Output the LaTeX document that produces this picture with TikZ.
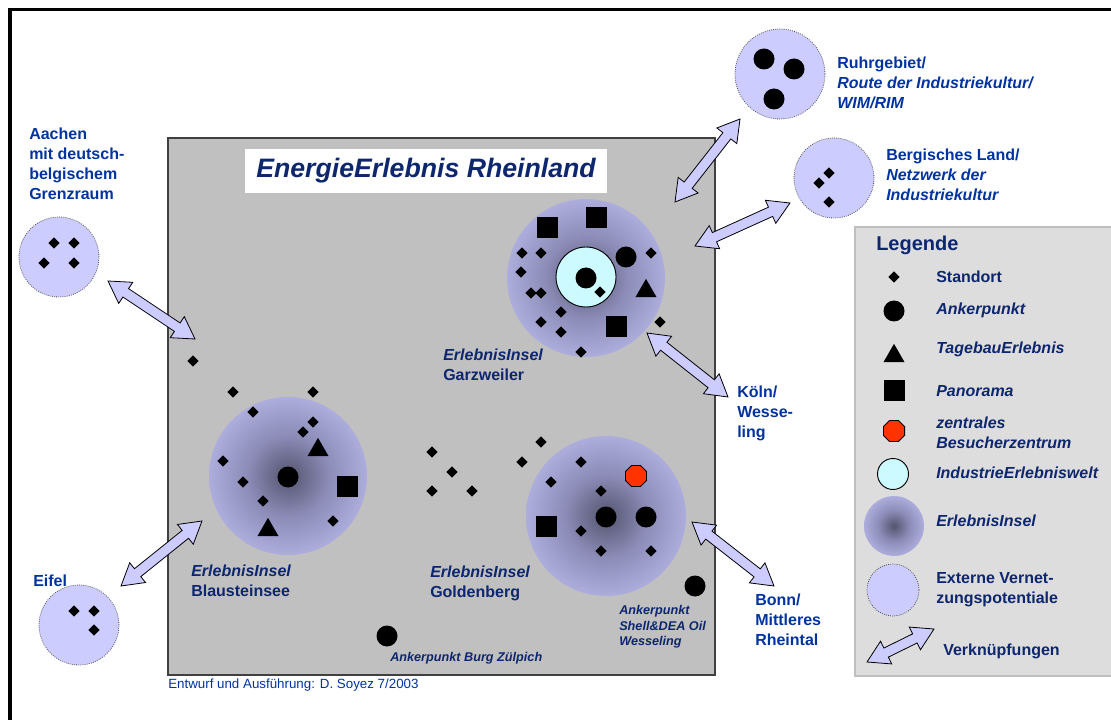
\documentclass[tikz,border=0pt]{standalone}
\usepackage{fontspec}
\setmainfont{Liberation Sans}
\usetikzlibrary{shapes.geometric,calc}
\definecolor{navy}{RGB}{13,38,110}
\definecolor{lblue}{RGB}{0,51,160}
\definecolor{lav}{RGB}{204,204,255}
\definecolor{boxgray}{RGB}{192,192,192}
\definecolor{leggray}{RGB}{221,221,221}
\definecolor{icyan}{RGB}{204,250,255}
\definecolor{octred}{RGB}{255,51,0}
\definecolor{isldark}{RGB}{84,84,110}
\definecolor{islmid}{RGB}{140,140,184}
\pgfdeclareradialshading{island}{\pgfpoint{0bp}{0bp}}{color(0bp)=(isldark); color(13bp)=(islmid); color(36bp)=(lav); color(50bp)=(lav)}
\newcommand\linkarrow[2]{%
  \draw[linkarr] (#1) -- ($(#1)!16pt!(#2)!9.5pt!90:(#2)$) -- ($(#1)!16pt!(#2)!3.8pt!90:(#2)$)
   -- ($(#2)!16pt!(#1)!3.8pt!-90:(#1)$) -- ($(#2)!16pt!(#1)!9.5pt!-90:(#1)$) -- (#2)
   -- ($(#2)!16pt!(#1)!9.5pt!90:(#1)$) -- ($(#2)!16pt!(#1)!3.8pt!90:(#1)$)
   -- ($(#1)!16pt!(#2)!3.8pt!-90:(#2)$) -- ($(#1)!16pt!(#2)!9.5pt!-90:(#2)$) -- cycle;}
\tikzset{
  dia/.style={diamond, fill=black, inner sep=0pt, minimum width=8.6pt, minimum height=8.6pt},
  anchorpt/.style={circle, fill=black, inner sep=0pt, minimum size=15.75pt},
  panor/.style={rectangle, fill=black, inner sep=0pt, minimum size=15.75pt},
  tagebau/.style={regular polygon, regular polygon sides=3, fill=black, inner sep=0pt, minimum size=18.2pt},
  besuch/.style={regular polygon, regular polygon sides=8, fill=octred, draw=black, line width=0.6pt, inner sep=0pt, minimum size=17.2pt},
  indwelt/.style={circle, fill=icyan, draw=black, line width=0.7pt, inner sep=0pt},
  isle/.style={circle, shade, shading=island, inner sep=0pt},
  extern/.style={circle, fill=lav, draw=black!70, densely dotted, line width=0.6pt, inner sep=0pt},
  linkarr/.style={fill=lav, draw=black, line width=0.6pt, line join=miter},
  extlab/.style={font=\bfseries\fontsize{12}{15}\selectfont, text=lblue, align=left, anchor=west, inner sep=0pt},
  isllab/.style={font=\bfseries\fontsize{12}{15}\selectfont, text=navy, align=left, anchor=west, inner sep=0pt},
  smalllab/.style={font=\bfseries\itshape\fontsize{9.5}{11.6}\selectfont, text=navy, align=left, anchor=west, inner sep=0pt},
  leglab/.style={font=\bfseries\fontsize{12}{15}\selectfont, text=navy, align=left, anchor=west, inner sep=0pt},
}
\begin{document}
\begin{tikzpicture}[x=0.75pt,y=-0.75pt]
\useasboundingbox (0,0) rectangle (1111,720);
% frame
\draw[line width=2.8pt] (8,9.5) -- (1111,9.5);
\draw[line width=2.8pt] (10,8.5) -- (10,720);
% main grey area
\filldraw[fill=boxgray, draw=black!75, line width=0.8pt] (168,138) rectangle (715,675);
% legend box
\filldraw[fill=leggray, draw=black!25, line width=0.8pt] (855,227) rectangle (1115,676);
% title
\node[fill=white, inner sep=0pt, minimum width=271.5pt, minimum height=33pt,
      font=\bfseries\itshape\fontsize{20}{24}\selectfont, text=navy] (title) at (426,171) {EnergieErlebnis Rheinland};

% ---------- Garzweiler
\node[isle, minimum size=118.5pt] (gz) at (586,278) {};
\node[indwelt, minimum size=45pt] (gzw) at (586,277) {};
\node[anchorpt] (gza) at (586,278) {};
\node[dia] (gzd0) at (600,292) {};
\foreach \x/\y [count=\i] in {547/228,596/218,616/327} \node[panor] (gzp\i) at (\x,\y) {};
\node[anchorpt] (gzb) at (626,257) {};
\node[tagebau] (gzt) at (646,291) {};
\foreach \x/\y [count=\i] in {522/253,541/253,521/272,531/293,541/293,561/312,541/322,561/332,581/352,651/253,660/322}
  \node[dia] (gzd\i) at (\x,\y) {};
\node[isllab] (gzl) at (443,365) {\textit{ErlebnisInsel}\\Garzweiler};

% ---------- Blausteinsee
\node[isle, minimum size=118.5pt] (bs) at (288,476) {};
\node[anchorpt] (bsa) at (288,477) {};
\node[tagebau] (bst1) at (318,450) {};
\node[tagebau] (bst2) at (268,530) {};
\node[panor] (bsp) at (347,486) {};
\foreach \x/\y [count=\i] in {233/392,313/392,253/412,313/422,303/432,223/461,243/482,263/501,333/521,193/361}
  \node[dia] (bsd\i) at (\x,\y) {};
\node[isllab] (bsl) at (191,581) {\textit{ErlebnisInsel}\\Blausteinsee};

% ---------- Goldenberg
\node[isle, minimum size=120pt] (gb) at (606,516) {};
\node[anchorpt] (gba1) at (606,517) {};
\node[anchorpt] (gba2) at (646,517) {};
\node[besuch] (gbo) at (636,476) {};
\node[panor] (gbp) at (546,526) {};
\foreach \x/\y [count=\i] in {581/462,551/482,601/491,581/531,601/551,651/551,432/452,452/472,432/491,472/491,522/462,541/442}
  \node[dia] (gbd\i) at (\x,\y) {};
\node[isllab] (gbl) at (430,583) {\textit{ErlebnisInsel}\\Goldenberg};

% single anchor points
\node[anchorpt] (wes) at (695,586) {};
\node[smalllab] (wesl) at (619,627) {Ankerpunkt\\Shell\&DEA Oil\\Wesseling};
\node[anchorpt] (zul) at (387,636) {};
\node[smalllab] (zull) at (390,658) {Ankerpunkt Burg Zülpich};

% footer
\node[font=\fontsize{10}{12}\selectfont, text=lblue, anchor=west, inner sep=0pt] (foot) at (168,685) {Entwurf und Ausführung: D. Soyez 7/2003};

% ---------- external areas
\node[extern, minimum size=60pt] (aachen) at (59,257) {};
\foreach \x/\y [count=\i] in {54/243,74/243,44/263,74/263} \node[dia] (aad\i) at (\x,\y) {};
\node[extlab] (aachenl) at (29,163.5) {Aachen\\mit deutsch-\\belgischem\\Grenzraum};

\node[extern, minimum size=67.5pt] (ruhr) at (780,74) {};
\foreach \x/\y [count=\i] in {764/59,794/69,774/99} \node[anchorpt] (rua\i) at (\x,\y) {};
\node[extlab] (ruhrl) at (837,83) {Ruhrgebiet/\\\textit{Route der Industriekultur/}\\\textit{WIM/RIM}};

\node[extern, minimum size=60pt] (berg) at (834,178) {};
\foreach \x/\y [count=\i] in {829/173,819/183,829/202} \node[dia] (bgd\i) at (\x,\y) {};
\node[extlab] (bergl) at (886,175) {Bergisches Land/\\\textit{Netzwerk der}\\\textit{Industriekultur}};

\node[extern, minimum size=60pt] (eifel) at (79,625) {};
\foreach \x/\y [count=\i] in {74/611,94/611,94/630} \node[dia] (efd\i) at (\x,\y) {};
\node[extlab] (eifell) at (33,581) {Eifel};

\node[extlab] (koelnl) at (737,413) {Köln/\\Wesse-\\ling};
\node[extlab] (bonnl) at (755,620) {Bonn/\\Mittleres\\Rheintal};

% ---------- link arrows
\coordinate (aa1) at (108,281); \coordinate (aa2) at (195,339);
\coordinate (ra1) at (675,202); \coordinate (ra2) at (740,119);
\coordinate (ba1) at (695,246); \coordinate (ba2) at (790,203);
\coordinate (ka1) at (647,333); \coordinate (ka2) at (728,397);
\coordinate (bo1) at (692,522); \coordinate (bo2) at (774,586);
\coordinate (ea1) at (121,586); \coordinate (ea2) at (202,521);
\coordinate (la1) at (867,662); \coordinate (la2) at (934,629);
\linkarrow{aa1}{aa2}
\linkarrow{ra1}{ra2}
\linkarrow{ba1}{ba2}
\linkarrow{ka1}{ka2}
\linkarrow{bo1}{bo2}
\linkarrow{ea1}{ea2}

% ---------- legend
\node[font=\bfseries\fontsize{15}{18}\selectfont, text=navy, anchor=west, inner sep=0pt] (legt) at (876,245) {Legende};
\node[dia] (lg1) at (894,277) {};
\node[leglab] (lg1t) at (936,277) {Standort};
\node[anchorpt] (lg2) at (894,311) {};
\node[leglab] (lg2t) at (936,310) {\textit{Ankerpunkt}};
\node[tagebau] (lg3) at (894,356) {};
\node[leglab] (lg3t) at (936,349) {\textit{TagebauErlebnis}};
\node[panor] (lg4) at (894,391) {};
\node[leglab] (lg4t) at (936,391) {\textit{Panorama}};
\node[besuch] (lg5) at (894,431) {};
\node[leglab] (lg5t) at (936,433) {\textit{zentrales}\\\textit{Besucherzentrum}};
\node[indwelt, minimum size=23.25pt] (lg6) at (893,474) {};
\node[leglab] (lg6t) at (936,473) {\textit{IndustrieErlebniswelt}};
\node[isle, minimum size=45pt] (lg7) at (894,526) {};
\node[leglab] (lg7t) at (936,521) {\textit{ErlebnisInsel}};
\node[extern, minimum size=39pt] (lg8) at (893,590) {};
\node[leglab] (lg8t) at (936,590) {Externe Vernet-\\zungspotentiale};
\linkarrow{la1}{la2}
\node[leglab] (lg9t) at (943,651) {Verknüpfungen};
\end{tikzpicture}
\end{document}
